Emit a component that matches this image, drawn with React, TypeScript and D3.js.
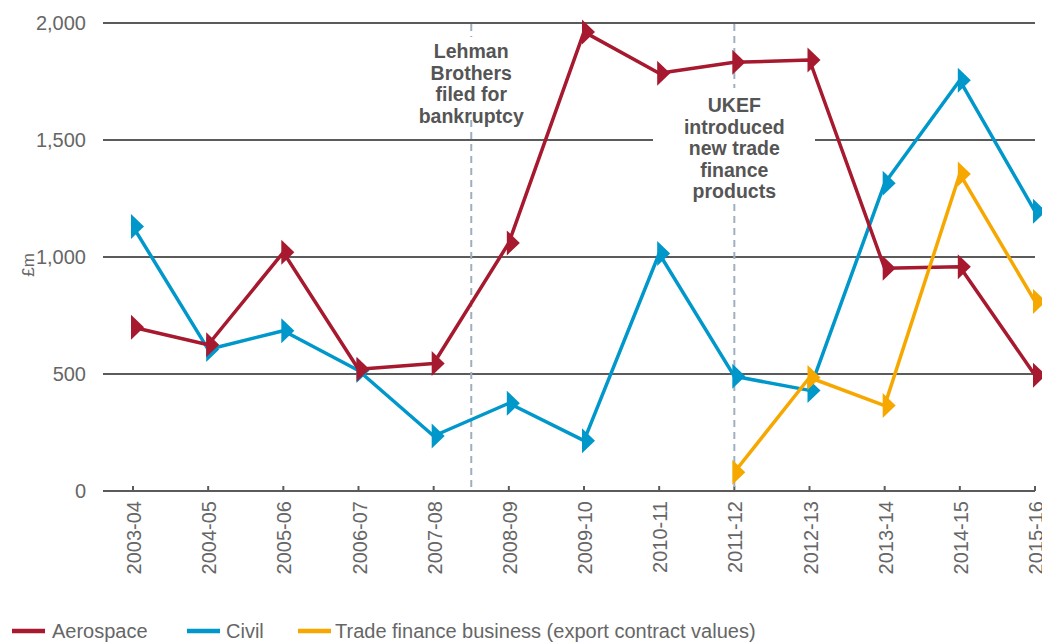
import React from "react";
import * as d3 from "d3";

const categories = ["2003-04","2004-05","2005-06","2006-07","2007-08","2008-09","2009-10","2010-11","2011-12","2012-13","2013-14","2014-15","2015-16"];
const aerospace = [700, 625, 1020, 520, 545, 1060, 1962, 1785, 1832, 1842, 952, 958, 495];
const civil = [1130, 605, 685, 515, 235, 375, 215, 1015, 490, 430, 1315, 1755, 1195];
const tradeCats = ["2011-12","2012-13","2013-14","2014-15","2015-16"];
const tradeFinance = [80, 485, 365, 1355, 810];
const yTicks = [0, 500, 1000, 1500, 2000];
const lehmanText = ["Lehman", "Brothers", "filed for", "bankruptcy"];
const ukefText = ["UKEF", "introduced", "new trade", "finance", "products"];
const legendItems = [
  { label: "Aerospace", color: "#a6192e" },
  { label: "Civil", color: "#0097cb" },
  { label: "Trade finance business (export contract values)", color: "#f6a800" },
];

const FONT = "'Liberation Sans', Arial, Helvetica, sans-serif";

export default function App() {
  const x = d3.scalePoint<string>().domain(categories).range([133, 1035]);
  const y = d3.scaleLinear().domain([0, 2000]).range([491, 23]);
  const plotLeft = 103;
  const plotRight = 1035;

  const seriesList = [
    { cats: categories, vals: civil, color: legendItems[1].color },
    { cats: categories, vals: aerospace, color: legendItems[0].color },
    { cats: tradeCats, vals: tradeFinance, color: legendItems[2].color },
  ];

  const line = d3
    .line<[string, number]>()
    .x((d) => x(d[0]) as number)
    .y((d) => y(d[1]));

  const marker = (cx: number, cy: number) =>
    `M${cx - 2},${cy - 12.5}L${cx + 11},${cy}L${cx - 2},${cy + 12.5}Z`;

  const lehmanX = ((x("2007-08") as number) + (x("2008-09") as number)) / 2;
  const ukefX = x("2011-12") as number;

  return (
    <div style={{ position: "fixed", left: 0, top: 0, width: 1042, height: 642, background: "#fff" }}>
      <svg width={1042} height={642} style={{ display: "block", fontFamily: FONT }}>
        <rect x={0} y={0} width={1042} height={642} fill="#fff" />
        {/* gridlines */}
        {yTicks.filter((t) => t > 0).map((t) => (
          <line key={t} x1={plotLeft} x2={plotRight} y1={y(t)} y2={y(t)} stroke="#5b5b5b" strokeWidth={2} />
        ))}
        {/* y labels */}
        {yTicks.map((t) => (
          <text key={t} x={86} y={y(t)} dy="0.35em" textAnchor="end" fontSize={20} fill="#666">
            {d3.format(",")(t)}
          </text>
        ))}
        <text transform={`translate(34,265) rotate(-90)`} textAnchor="middle" fontSize={17} fill="#666">£m</text>
        {/* x axis */}
        <line x1={plotLeft} x2={plotRight} y1={y(0)} y2={y(0)} stroke="#5b5b5b" strokeWidth={2} />
        {categories.map((c) => (
          <g key={c}>
            <line x1={x(c)} x2={x(c)} y1={y(0) - 5} y2={y(0)} stroke="#5b5b5b" strokeWidth={2} />
            <text
              transform={`translate(${(x(c) as number) + 1},${y(0) + 10}) rotate(-90)`}
              textAnchor="end"
              dy="0.35em"
              fontSize={20}
              fill="#666"
            >
              {c}
            </text>
          </g>
        ))}
        {/* event lines */}
        <line x1={lehmanX} x2={lehmanX} y1={y(2000) + 1} y2={y(0) - 1} stroke="#9eb0bf" strokeWidth={2} strokeDasharray="7,5" />
        <line x1={ukefX} x2={ukefX} y1={y(2000) + 1} y2={y(0) - 1} stroke="#9eb0bf" strokeWidth={2} strokeDasharray="7,5" />
        <rect x={430} y={37} width={82} height={80} fill="#fff" />
        <rect x={653} y={88} width={162} height={116} fill="#fff" />
        {lehmanText.map((t, i) => (
          <text key={t} x={lehmanX} y={58 + i * 21.5} textAnchor="middle" fontSize={19.5} fontWeight={700} fill="#555">
            {t}
          </text>
        ))}
        {ukefText.map((t, i) => (
          <text key={t} x={ukefX} y={112 + i * 21.5} textAnchor="middle" fontSize={19.5} fontWeight={700} fill="#555">
            {t}
          </text>
        ))}
        {/* series */}
        {seriesList.map((s, si) => {
          const pts: [string, number][] = s.cats.map((c, i) => [c, s.vals[i]]);
          return (
            <g key={si}>
              <path d={line(pts) || ""} fill="none" stroke={s.color} strokeWidth={3.5} strokeLinejoin="round" />
              {pts.map((p, i) => (
                <path key={i} d={marker(x(p[0]) as number, y(p[1]))} fill={s.color} />
              ))}
            </g>
          );
        })}
        {/* legend */}
        {[
          { lx: 12, tx: 52 },
          { lx: 187, tx: 226 },
          { lx: 298, tx: 335 },
        ].map((pos, i) => (
          <g key={i}>
            <line x1={pos.lx} x2={pos.lx + 33} y1={631} y2={631} stroke={legendItems[i].color} strokeWidth={4.5} />
            <text x={pos.tx} y={638} fontSize={20} fill="#666">
              {legendItems[i].label}
            </text>
          </g>
        ))}
      </svg>
    </div>
  );
}
